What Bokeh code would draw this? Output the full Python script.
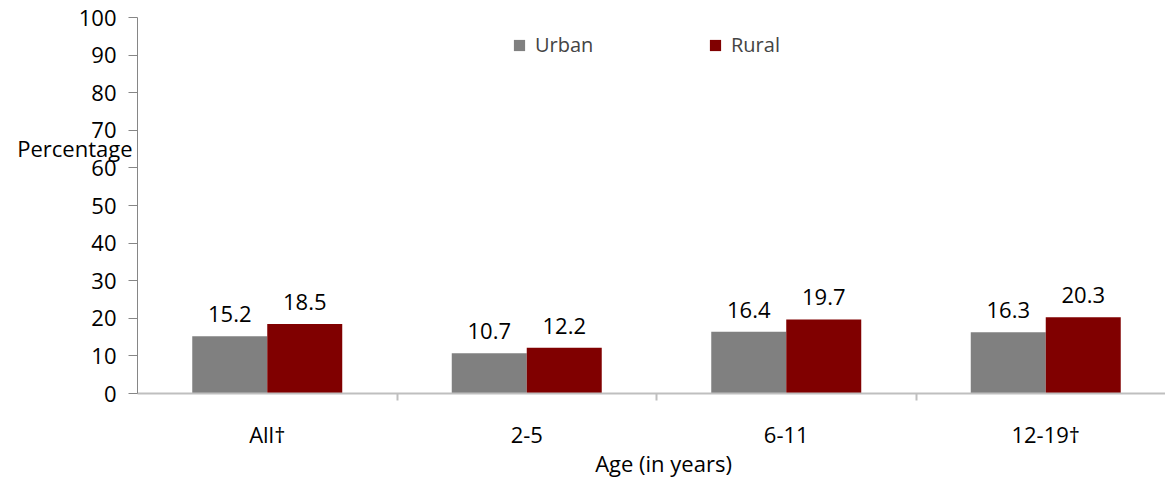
from bokeh.plotting import figure
from bokeh.models import (ColumnDataSource, Range1d, FixedTicker, LabelSet, Label,
                          Legend, LegendItem)
from bokeh.core.properties import value
from bokeh.embed import file_html
from bokeh.resources import INLINE

categories = ["All\u2020", "2-5", "6-11", "12-19\u2020"]
urban = [15.2, 10.7, 16.4, 16.3]
rural = [18.5, 12.2, 19.7, 20.3]
y_ticks = [0, 10, 20, 30, 40, 50, 60, 70, 80, 90, 100]
y_title = "Percentage"
x_title = "Age (in years)"

FONT = "Open Sans"
URBAN_C = "#808080"
RURAL_C = "#800000"

W, H = 1165, 478
LEFT, TOP, BOTTOM = 137, 17, 393          # pixel positions of the axes
CAT_PX = 259.5                            # width of one category, px
PX_PER_PCT = (BOTTOM - TOP) / 100.0

x_lo = -LEFT / CAT_PX
x_hi = (W - LEFT) / CAT_PX
y_hi = 100 + TOP / PX_PER_PCT
y_lo = -(H - BOTTOM) / PX_PER_PCT

centers = [i + 0.5 for i in range(len(categories))]
bw = 0.289
src = ColumnDataSource(dict(
    xu=[c - bw / 2 for c in centers],
    xr=[c + bw / 2 for c in centers],
    urban=urban, rural=rural,
    lu=[f"{v:.1f}" for v in urban],
    lr=[f"{v:.1f}" for v in rural],
))

p = figure(width=W, height=H, output_backend="svg", toolbar_location=None,
           x_range=Range1d(x_lo, x_hi), y_range=Range1d(y_lo, y_hi),
           min_border=0)
p.outline_line_color = None
p.grid.grid_line_color = None
p.background_fill_color = "white"

ru = p.vbar(x="xu", top="urban", width=bw, source=src, fill_color=URBAN_C, line_color=None)
rr = p.vbar(x="xr", top="rural", width=bw, source=src, fill_color=RURAL_C, line_color=None)

for col, xcol, top in (("lu", "xu", "urban"), ("lr", "xr", "rural")):
    p.add_layout(LabelSet(x=xcol, y=top, text=col, source=src, y_offset=14,
                          text_align="center", text_baseline="alphabetic",
                          text_font=value(FONT), text_font_size=value("22px"),
                          text_color="black"))

# y axis, drawn at x = 0
ya = p.yaxis[0]
ya.fixed_location = 0
ya.bounds = (0, 100)
ya.ticker = FixedTicker(ticks=y_ticks)
ya.axis_line_color = "#868686"
ya.major_tick_line_color = "#868686"
ya.major_tick_out = 9
ya.major_tick_in = 0
ya.minor_tick_line_color = None
ya.major_label_standoff = 12
ya.major_label_text_font = FONT
ya.major_label_text_font_size = "22px"
ya.major_label_text_color = "black"

# x axis, drawn at y = 0
xa = p.xaxis[0]
xa.fixed_location = 0
xa.bounds = (0, x_hi)
xa.ticker = FixedTicker(ticks=centers, minor_ticks=[1, 2, 3])
xa.major_label_overrides = {c: lab for c, lab in zip(centers, categories)}
xa.axis_line_color = "#bfbfbf"
xa.axis_line_width = 2
xa.major_tick_line_color = None
xa.major_tick_out = 0
xa.major_tick_in = 0
xa.minor_tick_line_color = "#bfbfbf"
xa.minor_tick_line_width = 2
xa.minor_tick_out = 7
xa.minor_tick_in = 0
xa.major_label_standoff = 18
xa.major_label_text_font = FONT
xa.major_label_text_font_size = "22px"
xa.major_label_text_color = "black"

p.add_layout(Label(x=-0.019, y=65.2, text=y_title, text_align="right",
                   text_baseline="middle", text_font=FONT, text_font_size="22px",
                   text_color="black"))
p.add_layout(Label(x=2.027, y=-18.4, text=x_title, text_align="center",
                   text_baseline="middle", text_font=FONT, text_font_size="22px",
                   text_color="black"))

for item, xloc in ((LegendItem(label="Urban", renderers=[ru]), 512),
                   (LegendItem(label="Rural", renderers=[rr]), 708)):
    lg = Legend(items=[item], location=(xloc, 420), orientation="horizontal",
                glyph_width=14, glyph_height=14, label_standoff=9,
                label_text_font=FONT, label_text_font_size="20px",
                padding=0, margin=0, border_line_color=None,
                background_fill_alpha=0)
    p.add_layout(lg, "center")

open("out.html", "w").write(file_html(p, INLINE))
